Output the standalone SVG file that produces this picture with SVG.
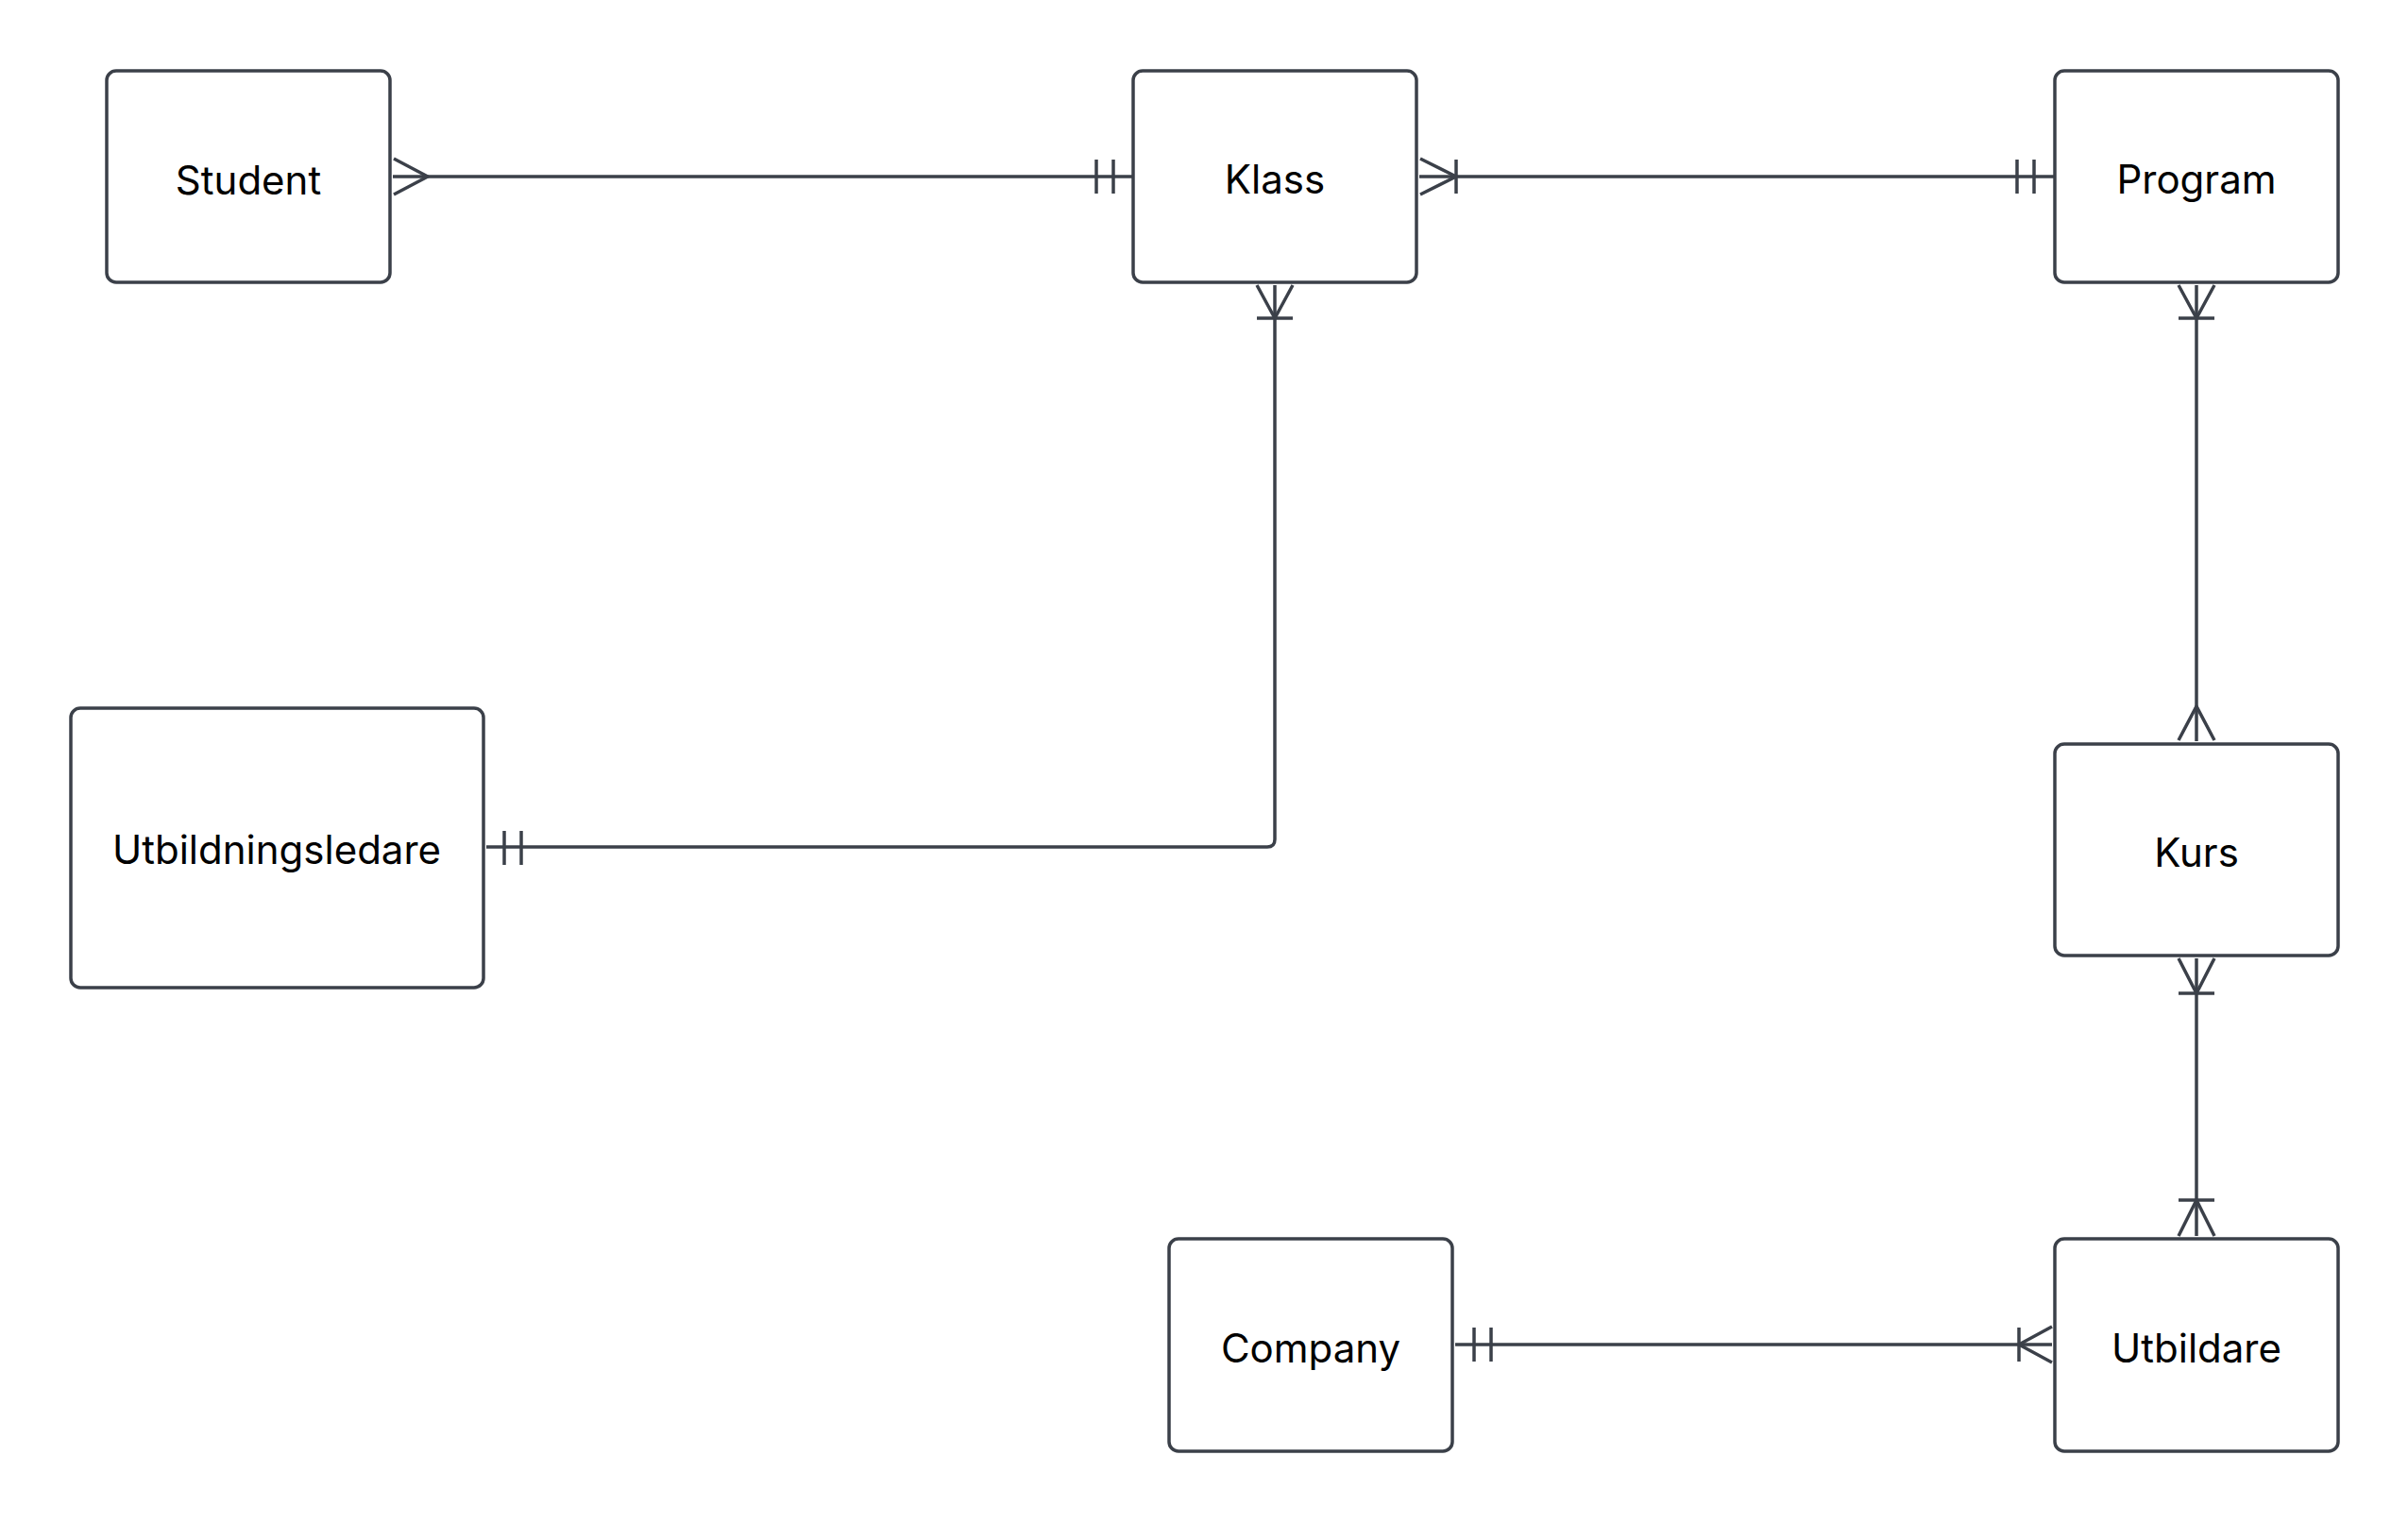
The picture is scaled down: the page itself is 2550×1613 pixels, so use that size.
<svg xmlns="http://www.w3.org/2000/svg" width="2550" height="1613" viewBox="0 0 2550 1613">
  <style>
    .entity rect { fill: #ffffff; stroke: #3b4049; stroke-width: 3.5; }
    .entity text { font-family: Inter, "Noto Sans", "Liberation Sans", sans-serif; font-size: 42px; fill: #000000; text-anchor: middle; }
    .edges path, .edges line { fill: none; stroke: #3b4049; stroke-width: 3.5; stroke-linecap: butt; stroke-linejoin: round; }
  </style>
  <rect x="0" y="0" width="2550" height="1613" fill="#ffffff"/>

  <g class="edges" id="connectors">
    <!-- Student }o——|| Klass -->
    <line x1="416" y1="187" x2="1200" y2="187"/>
    <path d="M417 168 L453 187 L417 206"/>
    <line x1="1161" y1="169" x2="1161" y2="205"/>
    <line x1="1179" y1="169" x2="1179" y2="205"/>

    <!-- Klass }|——|| Program -->
    <line x1="1503" y1="187" x2="2176" y2="187"/>
    <path d="M1504 168 L1542 187 L1504 206"/>
    <line x1="1542" y1="169" x2="1542" y2="205"/>
    <line x1="2136" y1="169" x2="2136" y2="205"/>
    <line x1="2154" y1="169" x2="2154" y2="205"/>

    <!-- Klass }| —— || Utbildningsledare -->
    <path d="M1350 302 L1350 889 Q1350 897 1342 897 L515 897"/>
    <path d="M1331 302 L1350 337 L1369 302"/>
    <line x1="1331" y1="337" x2="1369" y2="337"/>
    <line x1="534" y1="880" x2="534" y2="916"/>
    <line x1="552" y1="880" x2="552" y2="916"/>

    <!-- Program }| —— { Kurs -->
    <line x1="2326" y1="302" x2="2326" y2="785"/>
    <path d="M2307 302 L2326 337 L2345 302"/>
    <line x1="2307" y1="337" x2="2345" y2="337"/>
    <path d="M2307 784 L2326 748 L2345 784"/>

    <!-- Kurs }| —— |{ Utbildare -->
    <line x1="2326" y1="1015" x2="2326" y2="1309"/>
    <path d="M2307 1015 L2326 1052 L2345 1015"/>
    <line x1="2307" y1="1052" x2="2345" y2="1052"/>
    <path d="M2307 1309 L2326 1271 L2345 1309"/>
    <line x1="2307" y1="1271" x2="2345" y2="1271"/>

    <!-- Company || —— }| Utbildare -->
    <line x1="1541" y1="1424" x2="2173" y2="1424"/>
    <line x1="1561" y1="1406" x2="1561" y2="1442"/>
    <line x1="1579" y1="1406" x2="1579" y2="1442"/>
    <path d="M2173 1405 L2138 1424 L2173 1443"/>
    <line x1="2138" y1="1406" x2="2138" y2="1442"/>
  </g>

  <g class="entity" id="student">
    <rect x="113" y="75" width="300" height="224" rx="10"/>
    <text x="263" y="206">Student</text>
  </g>
  <g class="entity" id="klass">
    <rect x="1200" y="75" width="300" height="224" rx="10"/>
    <text x="1350" y="205">Klass</text>
  </g>
  <g class="entity" id="program">
    <rect x="2176" y="75" width="300" height="224" rx="10"/>
    <text x="2326" y="205">Program</text>
  </g>
  <g class="entity" id="utbildningsledare">
    <rect x="75" y="750" width="437" height="296" rx="10"/>
    <text x="293" y="915">Utbildningsledare</text>
  </g>
  <g class="entity" id="kurs">
    <rect x="2176" y="788" width="300" height="224" rx="10"/>
    <text x="2326" y="918">Kurs</text>
  </g>
  <g class="entity" id="company">
    <rect x="1238" y="1312" width="300" height="225" rx="10"/>
    <text x="1388" y="1443">Company</text>
  </g>
  <g class="entity" id="utbildare">
    <rect x="2176" y="1312" width="300" height="225" rx="10"/>
    <text x="2326" y="1443">Utbildare</text>
  </g>
</svg>
